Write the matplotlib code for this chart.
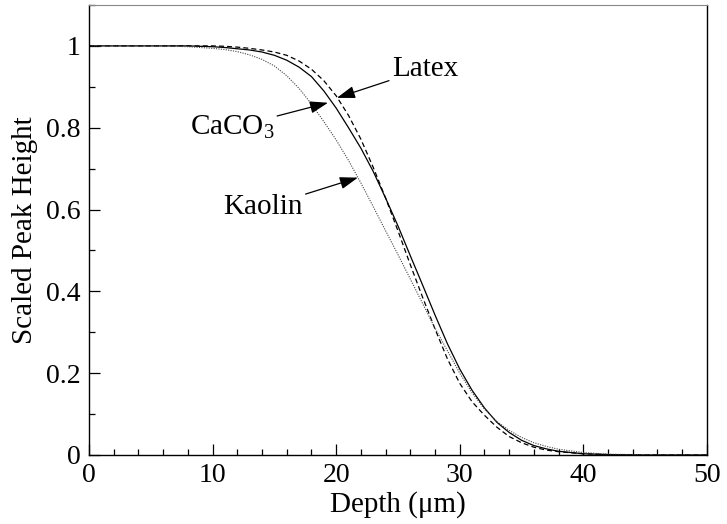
import matplotlib
matplotlib.use('Agg')
import matplotlib.pyplot as plt
from matplotlib.ticker import MultipleLocator

plt.rcParams['font.family'] = ['Liberation Serif', 'DejaVu Serif']
plt.rcParams['mathtext.fontset'] = 'custom'
plt.rcParams['mathtext.rm'] = 'Liberation Serif'
plt.rcParams['mathtext.it'] = 'Liberation Serif:italic'

# depth (um)
depth = [0, 2, 4, 6, 8, 10, 11, 12, 13, 14, 15, 16, 17, 18, 19, 20, 21, 22,
         23, 24, 25, 26, 27, 28, 29, 30, 31, 32, 33, 34, 35, 36, 37, 38, 40,
         42, 45, 50]
caco3 = [1.0, 1.0, 1.0, 1.0, 1.0, 0.998, 0.996, 0.993, 0.99, 0.985, 0.977,
         0.965, 0.948, 0.925, 0.89, 0.848, 0.80, 0.75, 0.693, 0.628, 0.56,
         0.487, 0.415, 0.342, 0.272, 0.21, 0.158, 0.115, 0.08, 0.055, 0.036,
         0.023, 0.015, 0.009, 0.003, 0.001, 0.0, 0.0]
latex = [1.0, 1.0, 1.0, 1.0, 1.0, 1.0, 0.999, 0.997, 0.994, 0.99, 0.985,
         0.977, 0.963, 0.943, 0.915, 0.878, 0.83, 0.772, 0.703, 0.628, 0.548,
         0.465, 0.385, 0.308, 0.235, 0.175, 0.13, 0.097, 0.068, 0.045, 0.03,
         0.019, 0.012, 0.008, 0.003, 0.001, 0.0, 0.0]
kaolin = [1.0, 1.0, 1.0, 1.0, 0.998, 0.994, 0.991, 0.986, 0.978, 0.967,
          0.951, 0.927, 0.896, 0.858, 0.815, 0.77, 0.72, 0.665, 0.607, 0.548,
          0.49, 0.43, 0.37, 0.31, 0.255, 0.2, 0.152, 0.112, 0.082, 0.06,
          0.043, 0.03, 0.021, 0.014, 0.006, 0.002, 0.0005, 0.0]

fig = plt.figure(figsize=(7.27, 5.24), dpi=100)
ax = fig.add_axes([0.1224, 0.1317, 0.85, 0.8588])

ax.plot(depth, caco3, '-', color='black', lw=0.9)
ax.plot(depth, latex, color='black', lw=0.9, linestyle=(0, (4, 2.5)))
ax.plot(depth, kaolin, color='#444444', lw=0.8, linestyle=(0, (1, 1.2)))

ax.set_xlim(0, 50)
ax.set_ylim(0, 1.1)
ax.xaxis.set_major_locator(MultipleLocator(10))
ax.xaxis.set_minor_locator(MultipleLocator(2))
ax.yaxis.set_minor_locator(MultipleLocator(0.1))
ax.set_yticks([0, 0.2, 0.4, 0.6, 0.8, 1.0])
ax.set_yticklabels(['0', '0.2', '0.4', '0.6', '0.8', '1'])
ax.tick_params(which='both', direction='in', top=False, right=False,
               labelsize=20, width=0.9)
ax.tick_params(which='major', length=8, pad=6)
ax.tick_params(which='minor', length=4.5)
ax.spines['top'].set_color('#888888')
for s in ['left', 'right', 'bottom']:
    ax.spines[s].set_linewidth(1.0)

ax.set_xlabel('Depth (\u03bcm)', fontsize=21, labelpad=2)
ax.set_ylabel('Scaled Peak Height', fontsize=21, labelpad=6)

arrow = dict(arrowstyle='-|>,head_length=0.65,head_width=0.22', color='black',
             lw=0.9, mutation_scale=17, shrinkA=0, shrinkB=0)
ax.annotate('Latex', xy=(20.06, 0.873), xytext=(24.5, 0.944), fontsize=21,
            ha='left', va='center', arrowprops=arrow)
ax.annotate('CaCO$_3$', xy=(19.34, 0.861), xytext=(15.0, 0.80), fontsize=21,
            ha='right', va='center', arrowprops=arrow)
ax.annotate('Kaolin', xy=(21.76, 0.678), xytext=(17.3, 0.605), fontsize=21,
            ha='right', va='center', arrowprops=arrow)

fig.savefig('out.png', dpi=100)
